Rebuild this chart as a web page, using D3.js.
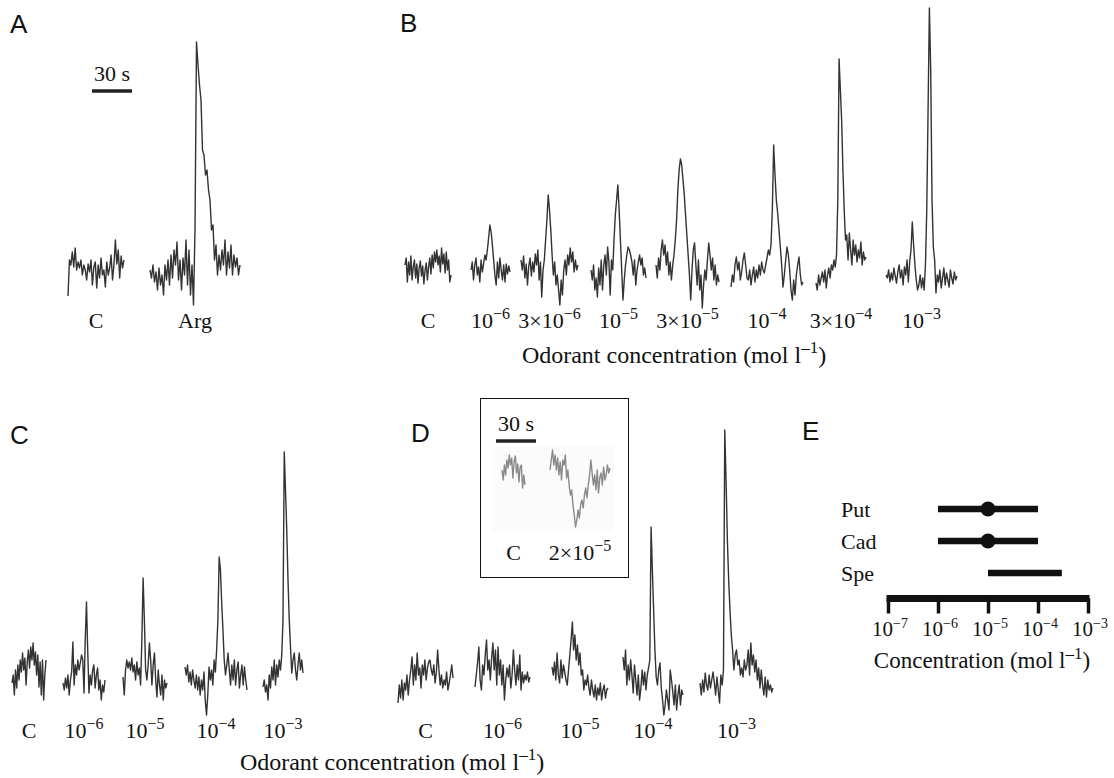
<!DOCTYPE html>
<html>
<head>
<meta charset="utf-8">
<script src="https://cdn.jsdelivr.net/npm/d3@7"></script>
<style>
  body { margin: 0; background: #fff; }
  svg { display: block; }
</style>
</head>
<body>
<svg id="fig" width="1114" height="778"></svg>
<script>
// ---- Panel A: control vs arginine (onset s, duration s, response a.u.)
const aLabels = ["C", "Arg"];
const aStart = [6, 67.5];
const aDur = [42, 67.5];
const aTraces = [
  [-26, 10, 5, 18, 3, 22, 0, 8, 2, 10, -5, 5, 0, -10, 6, -2, 10, -15, 3, 8, -18, 5, -8, 12, -5, 0, -17, 8, -5, 2, 15, -10, 5, 30, 6, 20, -8, 14, 2, 10],
  [0, -8, 5, -12, -2, -20, 2, -15, -5, -25, 5, -10, 10, -15, 15, -8, 20, 5, 28, -10, 10, -20, 12, -5, 30, -15, 20, -25, 5, -35,
   40, 228, 205, 185, 170, 120, 115, 95, 100, 80, 70, 40, 45, 10, 25, -5, 15, 0, 20, 5, 30, -5, 18, 2, 25, -5, 15, 3, 12, -5, 5]
];

// ---- Panel B: concentration series
const bLabels = ["C", "10^{−6}", "3×10^{−6}", "10^{−5}", "3×10^{−5}", "10^{−4}", "3×10^{−4}", "10^{−3}"];
const bStart = [3.75, 53.25, 90.75, 143.25, 192, 248.25, 312, 364.5];
const bDur = [34.5, 29.25, 42.75, 41.25, 47.25, 54, 37.5, 53.25];
const bTraces = [
  [5, 12, -12, 8, -5, 14, -10, 3, 10, -8, 6, -13, 2, 9, -6, 4, -14, 0, 7, -10, 3, 12, -4, 15, 2, 18, 8, 20, 5, 14, -2, 22, 6, 16, -3, 18, 0, 10, -12, -5],
  [0, 8, -10, 5, 12, -5, 3, -12, 10, -2, 6, 15, 10, 20, 32, 45, 38, 25, 10, -5, -15, 8, -8, 12, 0, -10, 5, -12, 6, -4, 4, -2],
  [10, 0, 14, -8, 6, -15, 4, 12, -6, 8, -2, 16, 5, 20, -10, 8, -27, 0, 10, 30, 50, 75, 60, 40, 15, -5, 8, -15, -5, -20, -35, -10, -25, 0, 10, -5, 15, 5, 22, 8, 18, -2, 10, 0, 5],
  [0, -10, 5, -20, -8, -27, 2, -15, 10, -20, 5, 15, -5, 23, 8, -25, 10, 0, 30, 55, 70, 85, 60, 30, 0, -30, -10, 5, 15, 23, 20, 15, 8, -5, 10, -15, 0, 8, 15, 5, 12, -5, 2, -8],
  [5, -8, 12, 0, 20, 30, 15, 25, 5, 18, -5, 8, -10, 5, 15, 30, 50, 80, 100, 111, 105, 90, 75, 55, 35, 15, -5, -30, 0, 20, 27, 5, -15, 10, -20, -5, -38, -15, 0, -10, 10, 27, 15, 0, 12, -10, 5, -15, -5, -12],
  [-17, -5, -12, 5, 13, 0, 8, -10, -2, 10, 17, 5, -8, -10, 0, -15, -5, 3, -12, 0, -8, 5, -5, 8, 0, -3, 5, 12, 20, 15, 25, 60, 125, 95, 70, 57, 40, 23, 5, -17, -5, 10, 23, 15, 0, -20, -30, -10, -25, -5, 5, 13, -5, -15, -12],
  [-13, -20, -5, -15, -8, -2, -12, 0, -18, -5, 2, -8, 5, 0, 10, 3, 15, 70, 211, 180, 150, 100, 60, 30, 35, 10, 37, 20, 5, 30, 15, 25, 8, 20, 12, 28, 5, 18, 10, 13],
  [-5, -8, 0, -12, -3, -10, 2, -6, -13, -2, 5, -8, 0, -15, 3, -5, 10, -12, 8, 20, 48, 25, 5, -10, -20, -15, -5, -18, -8, -20, 5, 60, 160, 262, 200, 70, 23, 10, -23, -5, -12, 0, -18, -8, 2, -15, -3, -10, -17, 0, -8, -14, -2, -10, -6]
];

// ---- Panel C
const cLabels = ["C", "10^{−6}", "10^{−5}", "10^{−4}", "10^{−3}"];
const cStart = [9, 47.25, 92.25, 138.75, 197.25];
const cDur = [25.5, 31.5, 33, 46.5, 30];
const cTraces = [
  [-3, 5, -15, 10, -8, 15, 0, 20, 8, 27, 10, 22, -5, 18, 30, 12, 33, 20, 37, 15, 28, 5, 25, -7, 18, -15, 20, -20, 5, 20],
  [-3, -10, 2, -8, 5, -15, 0, 8, 38, -5, 15, 5, 20, 10, 17, 25, 20, -13, 40, 78, 30, -13, 5, -5, 10, 15, -8, 5, 12, -10, 0, -20, -5, -12, 0],
  [3, -15, 10, 20, 12, 18, 10, 22, 8, 15, 0, 18, 5, 12, -5, 40, 102, 60, 10, 0, 15, 37, 20, -5, 15, 27, 0, -17, 10, -5, -15, 5, -20, 0, -8, -3],
  [13, 5, 15, -2, 8, -5, 10, 0, -8, 5, -10, 3, -15, 0, -10, 8, -20, -35, -15, 13, 0, 10, -5, 20, 8, 30, 60, 123, 110, 77, 50, 20, 5, 15, 27, 10, -5, 15, 0, 20, -5, 10, 18, -8, 5, 15, -5, 13, 0, -10],
  [-7, 0, -12, -5, -20, 5, -8, 13, 0, 20, -5, 15, 3, 20, 10, 25, 60, 228, 190, 150, 100, 60, 33, 7, 20, 27, 10, 0, 15, 27, 10, 20, 7]
];

// ---- Panel D
const dLabels = ["C", "10^{−6}", "10^{−5}", "10^{−4}", "10^{−3}"];
const dStart = [6, 63.75, 121.5, 174.75, 232.5];
const dDur = [41.25, 41.25, 42, 45, 54.75];
const dTraces = [
  [-23, -5, -18, 0, -20, -3, -10, 5, -15, 0, 10, 23, -5, 15, 0, 27, 5, 12, -8, 15, 5, 20, 0, 12, 18, 20, 10, 5, 15, -3, 8, 30, 10, -5, 5, -8, 0, -5, 8, -10, -3, 5, 15, 2],
  [-7, 5, 17, 33, 0, -10, 15, 5, 25, 40, 10, 20, 0, 22, 37, 10, 30, -5, 33, 5, 20, -5, 15, -20, 0, 12, 3, 15, -8, 5, 30, 10, -5, 15, 0, 25, -10, 8, -3, 5, 0, 8, -2, 3],
  [13, 5, 18, 0, 27, 5, -3, 20, 2, 15, 8, 0, -5, 10, 25, 40, 58, 30, 45, 20, 35, 15, 27, 5, 10, -10, 0, -5, 5, -8, -15, 0, -10, -17, -5, -20, -8, -15, -3, -20, -10, -5, -18, -10, -8],
  [23, 10, 30, -5, 15, 0, 20, 5, -13, 15, 0, -15, 5, -20, -8, 10, -5, 8, -10, 5, 12, 20, 153, 110, 70, 30, 3, -5, 10, 17, -8, -20, -35, -25, -10, -20, -30, 10, 0, -12, -25, -5, -30, -15, -5, -25, -10, -15],
  [-3, -15, 0, -12, 7, -5, -10, 5, -8, 0, 8, -3, -15, 3, -10, -23, 5, -5, 10, 250, 200, 140, 100, 70, 45, 30, 10, 25, 30, 15, 20, 5, 12, 3, 20, 10, 15, 30, 5, 37, 15, 25, 8, 20, 0, 12, -8, 10, -5, -15, 3, -17, 0, -10, -5, -12, -8]
];

// ---- Panel D inset
const insetLabels = ["C", "2×10^{−5}"];
const insetStart = [16.5, 52.5];
const insetDur = [17.25, 45];
const insetTraces = [
  [0, -10, 5, -5, 10, 2, 15, 5, 12, -8, 8, 14, -3, 6, -12, 3, 5, -18, -5, -15],
  [0, 10, 20, 5, 15, 0, 12, -5, 8, -10, 10, 5, 15, -8, 0, -15, -25, -20, -35, -45, -57, -50, -40, -48, -35, -30, -38, -25, -18, -28, -15, -5, 10, -3, -15, -5, -20, 0, -23, -8, -3, -15, 3, -10, -5, 5, -3, 2]
];

// ---- Panel E: response ranges (mol l-1)
const eCompounds = ["Put", "Cad", "Spe"];
const eLow = [1e-6, 1e-6, 1e-5];
const eHigh = [1e-4, 1e-4, 3e-4];
const eMid = [1e-5, 1e-5, null];
const eTicks = [1e-7, 1e-6, 1e-5, 1e-4, 1e-3];

const svg = d3.select("#fig");
const serif = "'Liberation Serif', 'Times New Roman', serif";
const sans = "'Liberation Sans', Arial, sans-serif";

// text with ^{...} superscripts
function richText(g, x, y, str, size, anchor = "middle", supScale = 0.72) {
  const t = g.append("text")
    .attr("x", x).attr("y", y)
    .attr("text-anchor", anchor)
    .attr("font-family", serif)
    .attr("font-size", size)
    .attr("fill", "#111");
  const parts = str.split(/\^\{|\}/);
  parts.forEach((p, i) => {
    if (!p) return;
    const sup = i % 2 === 1;
    const s = t.append("tspan").text(p);
    if (sup) {
      s.attr("font-size", Math.round(size * supScale)).attr("dy", -size * 0.4);
    } else if (i > 0) {
      s.attr("dy", size * 0.4);
    }
  });
  return t;
}

// one row of stimulus traces
function drawTraces(cfg) {
  const x = d3.scaleLinear().domain([0, 30]).range([cfg.origin, cfg.origin + 40]);
  const y = d3.scaleLinear().domain([0, 100]).range([cfg.base, cfg.base - 100]);
  const g = svg.append("g");
  cfg.traces.forEach((vals, k) => {
    const t = d3.scaleLinear().domain([0, vals.length - 1]).range([cfg.start[k], cfg.start[k] + cfg.dur[k]]);
    const line = d3.line().x((d, i) => x(t(i))).y(d => y(d));
    g.append("path")
      .datum(vals)
      .attr("d", line)
      .attr("fill", "none")
      .attr("stroke", cfg.color || "#333")
      .attr("stroke-width", 1.4)
      .attr("stroke-linejoin", "round");
    richText(g, x(cfg.start[k] + cfg.dur[k] / 2), cfg.labelY, cfg.labels[k], 22);
  });
  if (cfg.bar) {
    g.append("line")
      .attr("x1", x(cfg.bar[0])).attr("x2", x(cfg.bar[1]))
      .attr("y1", cfg.bar[2]).attr("y2", cfg.bar[2])
      .attr("stroke", "#222").attr("stroke-width", 3.5);
    richText(g, x((cfg.bar[0] + cfg.bar[1]) / 2), cfg.bar[2] - 10, "30 s", 22);
  }
  return g;
}

function panelLetter(x, y, s) {
  svg.append("text").attr("x", x).attr("y", y)
    .attr("font-family", sans).attr("font-size", 26)
    .attr("fill", "#111").text(s);
}

// A
panelLetter(10, 33, "A");
drawTraces({ origin: 60, base: 270, start: aStart, dur: aDur, traces: aTraces, labels: aLabels, labelY: 328, bar: [24, 54, 91] });

// B
panelLetter(400, 32, "B");
drawTraces({ origin: 400, base: 270, start: bStart, dur: bDur, traces: bTraces, labels: bLabels, labelY: 328 });
richText(svg, 674, 363, "Odorant concentration (mol l^{–1})", 24);

// C
panelLetter(10, 444, "C");
drawTraces({ origin: 0, base: 680, start: cStart, dur: cDur, traces: cTraces, labels: cLabels, labelY: 738 });

// D
panelLetter(411, 442, "D");
drawTraces({ origin: 390, base: 680, start: dStart, dur: dDur, traces: dTraces, labels: dLabels, labelY: 738 });
richText(svg, 392, 770, "Odorant concentration (mol l^{–1})", 24);

// D inset
svg.append("rect").attr("x", 480.5).attr("y", 398.5).attr("width", 148).attr("height", 179)
  .attr("fill", "#fff").attr("stroke", "#111").attr("stroke-width", 1);
svg.append("rect").attr("x", 492).attr("y", 446).attr("width", 122).attr("height", 86)
  .attr("fill", "#fbfbfb");
drawTraces({ origin: 480, base: 470, start: insetStart, dur: insetDur, traces: insetTraces, labels: insetLabels,
  labelY: 560, color: "#8a8a8a", bar: [12, 42, 441] });

// E
panelLetter(802, 440, "E");
const ex = d3.scaleLog().domain([1e-7, 1e-3]).range([888, 1088]);
const ey = d3.scalePoint().domain(eCompounds).range([509, 573]);
const eg = svg.append("g");
eg.selectAll("line.range")
  .data(eCompounds)
  .join("line")
  .attr("class", "range")
  .attr("x1", (d, i) => ex(eLow[i]))
  .attr("x2", (d, i) => ex(eHigh[i]))
  .attr("y1", d => ey(d)).attr("y2", d => ey(d))
  .attr("stroke", "#111").attr("stroke-width", 6.5);
eg.selectAll("circle")
  .data(eCompounds.filter((d, i) => eMid[i] !== null))
  .join("circle")
  .attr("cx", d => ex(eMid[eCompounds.indexOf(d)]))
  .attr("cy", d => ey(d))
  .attr("r", 7.5)
  .attr("fill", "#111");
eCompounds.forEach(c => {
  eg.append("text").attr("x", 841).attr("y", ey(c) + 8)
    .attr("font-family", serif).attr("font-size", 22).attr("fill", "#111").text(c);
});

const eAxis = eg.append("g")
  .attr("transform", "translate(0,598.5)")
  .call(d3.axisBottom(ex).tickValues(eTicks).tickSize(15).tickSizeOuter(0).tickFormat(""));
eAxis.select(".domain").attr("stroke", "#111").attr("stroke-width", 7)
  .attr("d", `M${ex(1e-7) - 1.5},0H${ex(1e-3) + 1.5}`);
eAxis.selectAll(".tick line").attr("stroke", "#111").attr("stroke-width", 3.5);
eTicks.forEach(v => {
  richText(eg, ex(v) + 2, 636, "10^{" + "−" + Math.round(-Math.log10(v)) + "}", 21, "middle", 0.66);
});
richText(eg, 982, 668, "Concentration (mol l^{–1})", 23);
</script>
</body>
</html>
